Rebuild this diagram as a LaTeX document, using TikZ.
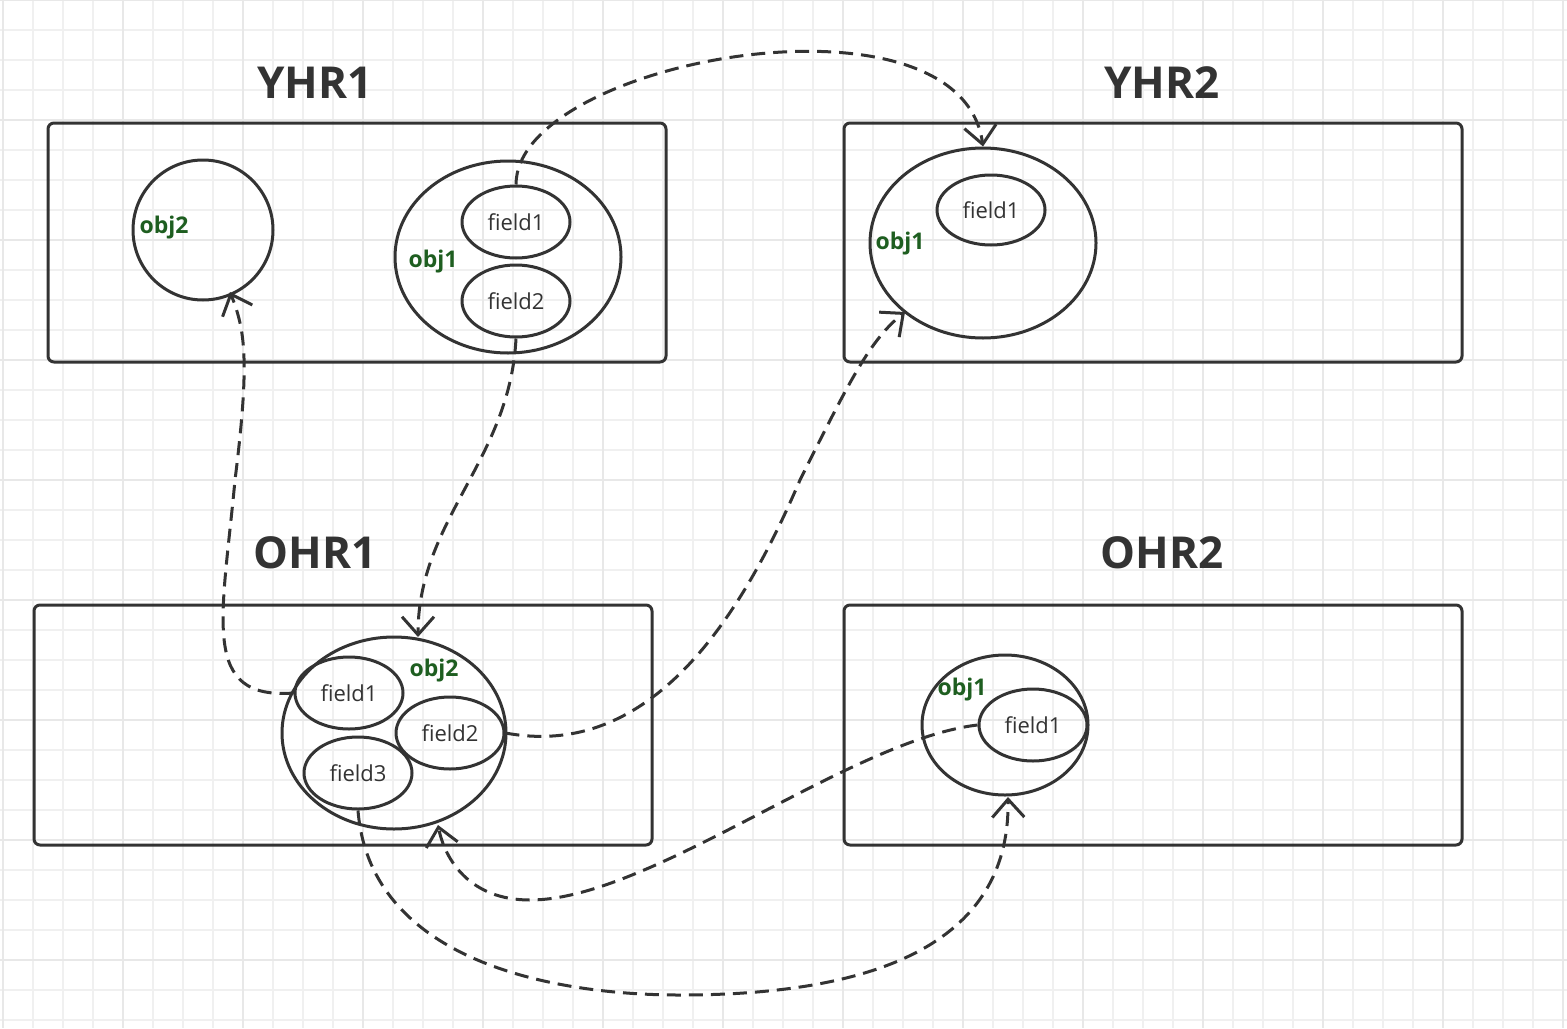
\documentclass[tikz,border=0pt]{standalone}
\usepackage{fontspec}
\setmainfont{Open Sans}
\usetikzlibrary{arrows.meta,shapes.geometric}
\definecolor{ink}{HTML}{333333}
\definecolor{grn}{HTML}{1E5E20}
\begin{document}
\begin{tikzpicture}[x=0.5pt,y=-0.5pt,
  box/.style={draw=ink,line width=1.5pt,rounded corners=3pt},
  obj/.style={draw=ink,line width=1.5pt,ellipse,inner sep=0pt},
  fld/.style={draw=ink,line width=1.5pt,ellipse,inner sep=0pt,minimum width=54pt,minimum height=36pt,font=\fontsize{11}{13}\selectfont,text=ink},
  lbl/.style={font=\fontsize{11.5}{13}\selectfont\bfseries,text=grn},
  ttl/.style={font=\fontsize{22}{26}\selectfont\bfseries,text=ink},
  con/.style={draw=ink,line width=1.5pt,dash pattern=on 7pt off 4pt,-{Straight Barb[length=9pt,width=16pt,line width=1.5pt]}}]
\useasboundingbox (0,0) rectangle (1567,1028);
\fill[white] (0,0) rectangle (1567,1028);
\foreach \x in {3,33,...,1567} \draw[black!6,line width=1pt] (\x,0)--(\x,1028);
\foreach \y in {0,30,...,1028} \draw[black!6,line width=1pt] (0,\y)--(1567,\y);
\foreach \x in {3,123,...,1567} \draw[black!9,line width=1.2pt] (\x,0)--(\x,1028);
\foreach \y in {0,120,...,1028} \draw[black!9,line width=1.2pt] (0,\y)--(1567,\y);
% boxes
\draw[box] (48,123) rectangle (666,362);
\draw[box] (844,123) rectangle (1462,362);
\draw[box] (34,605) rectangle (652,845);
\draw[box] (844,605) rectangle (1462,845);
\node[ttl] (t1) at (315,83) {YHR1};
\node[ttl] (t2) at (1162,83) {YHR2};
\node[ttl] (t3) at (315,553) {OHR1};
\node[ttl] (t4) at (1162,553) {OHR2};
% YHR1
\node[obj,minimum width=70pt,minimum height=70pt] (yo2) at (203,230) {};
\node[lbl] at (164,228) {obj2};
\node[obj,minimum width=113pt,minimum height=96pt] (yo1) at (508,257) {};
\node[lbl] at (433,262) {obj1};
\node[fld] (yf1) at (516,222) {field1};
\node[fld] (yf2) at (516,301) {field2};
% YHR2
\node[obj,minimum width=113pt,minimum height=95pt] (zo1) at (983,243) {};
\node[lbl] at (900,244) {obj1};
\node[fld,minimum height=35pt] (zf1) at (991,210) {field1};
% OHR1
\node[obj,minimum width=112pt,minimum height=96pt] (oo2) at (394,733) {};
\node[lbl] at (434,671) {obj2};
\node[fld] (of1) at (349,693) {field1};
\node[fld] (of2) at (450,733) {field2};
\node[fld] (of3) at (358,773) {field3};
% OHR2
\node[obj,minimum width=83pt,minimum height=70pt] (po1) at (1005,725) {};
\node[fld] (pf1) at (1033,725) {field1};
\node[lbl] at (962,690) {obj1};
% connectors
\draw[con] (yf1.north) .. controls (516,60) and (960,-20) .. (zo1.north);
\draw[con] (yf2.south) .. controls (510,460) and (418,520) .. (418,637);
\draw[con] (of1.west) .. controls (200,700) and (222,620) .. (235,480) .. controls (250,360) and (245,330) .. (230,292);
\draw[con] (of2.east) .. controls (650,760) and (740,620) .. (800,480) .. controls (850,380) and (870,340) .. (905,312);
\draw[con] (pf1.west) .. controls (850,740) and (650,900) .. (530,900) .. controls (470,900) and (445,860) .. (438,825);
\draw[con] (of3.south) .. controls (370,960) and (550,995) .. (680,995) .. controls (900,995) and (1010,930) .. (1008,797);
\end{tikzpicture}
\end{document}
